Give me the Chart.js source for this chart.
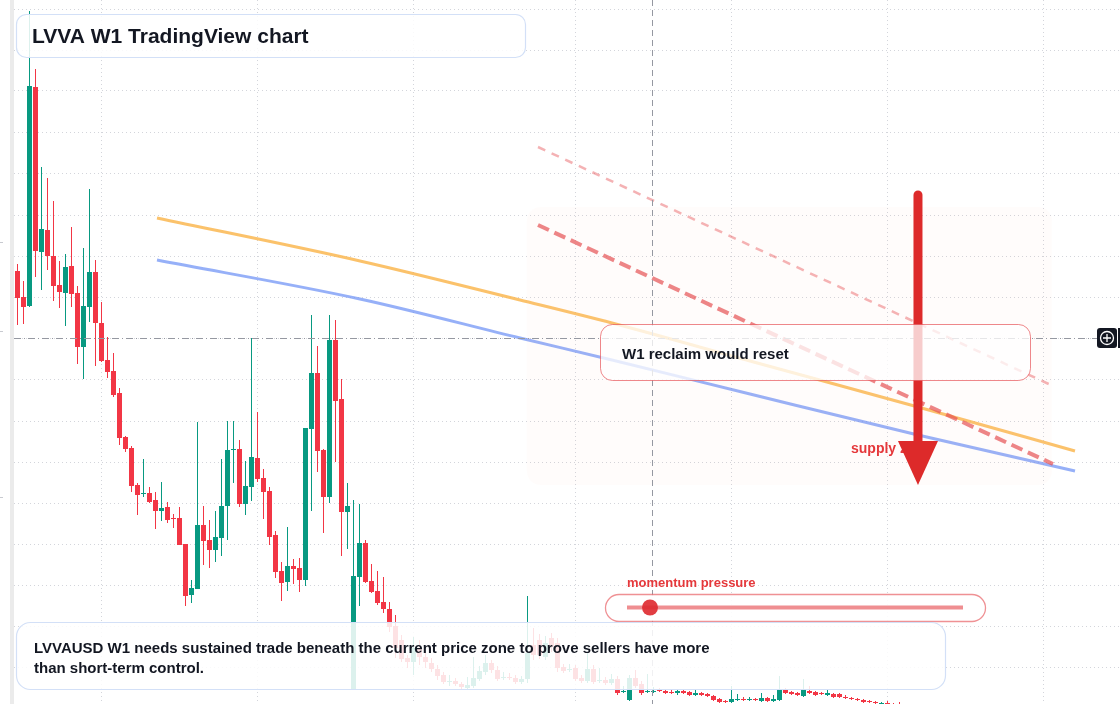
<!DOCTYPE html>
<html><head><meta charset="utf-8">
<script src="https://cdn.jsdelivr.net/npm/chart.js@4.4.0/dist/chart.umd.min.js"></script>
<style>html,body{margin:0;padding:0;background:#fff;overflow:hidden}canvas{display:block}</style>
</head><body><canvas id="c" width="1120" height="704"></canvas>
<script>
// ---- LVVAUSD weekly candles (price in USD) ----
const opens = [.0729,.0703,.0694,.0913,.0748,.0770,.0744,.0715,.0707,.0734,
.0707,.0653,.0693,.0728,.0677,.0640,.0629,.0607,.0563,.0552,
.0515,.0506,.0507,.0500,.0489,.0493,.0482,.0482,.0456,.0405,
.0411,.0475,.0460,.0450,.0462,.0494,.0550,.0551,.0496,.0513,
.0542,.0522,.0509,.0465,.0429,.0418,.0434,.0432,.0420,.0571,
.0627,.0550,.0503,.0660,.0601,.0488,.0310,.0423,.0457,.0419,
.0409,.0398,.0391,.0374,.0360,.0342,.0338,.0352,.0343,.0337,
.0331,.0325,.0318,.0319,.0316,.0312,.0314,.0321,.0328,.0337,
.0330,.0322,.0323,.0322,.0318,.0321,.0355,.0360,.0343,.0362,
.0357,.0333,.0330,.0332,.0322,.0319,.0331,.0319,.0320,.0317,
.0321,.0308,.0300,.0322,.0316,.0308,.0308,.0310,.0309,.0308,
.0307,.0309,.0308,.0305,.0307,.0306,.0304,.0301,.0299,.0298,
.0300,.0301,.0300,.0301,.0299,.0302,.0299,.0300,.0310,.0308,
.0307,.0304,.0309,.0308,.0307,.0305,.0306,.0306,.0303,.0302,
.0301,.0300,.0299,.0298,.0296,.0297,.0296,.0296];
const highs = [.0736,.0719,.0989,.0931,.0833,.0822,.0799,.0739,.0746,.0773,
.0714,.0752,.0811,.0740,.0698,.0663,.0647,.0612,.0564,.0554,
.0517,.0541,.0513,.0508,.0518,.0498,.0486,.0493,.0456,.0420,
.0578,.0494,.0480,.0489,.0541,.0579,.0579,.0560,.0539,.0662,
.0588,.0531,.0513,.0469,.0438,.0473,.0441,.0442,.0572,.0685,
.0654,.0551,.0685,.0680,.0621,.0517,.0500,.0496,.0460,.0436,
.0429,.0423,.0398,.0385,.0365,.0345,.0363,.0360,.0350,.0342,
.0335,.0328,.0325,.0322,.0318,.0323,.0343,.0334,.0345,.0340,
.0334,.0328,.0327,.0325,.0324,.0404,.0372,.0366,.0364,.0367,
.0362,.0336,.0336,.0335,.0325,.0347,.0335,.0332,.0323,.0326,
.0324,.0314,.0325,.0330,.0319,.0326,.0313,.0312,.0311,.0310,
.0311,.0310,.0309,.0310,.0308,.0307,.0305,.0302,.0300,.0314,
.0306,.0303,.0303,.0302,.0307,.0303,.0305,.0324,.0312,.0309,
.0308,.0321,.0314,.0309,.0308,.0310,.0307,.0307,.0305,.0303,
.0302,.0301,.0300,.0299,.0298,.0299,.0297,.0298];
const lows = [.0675,.0676,.0693,.0723,.0710,.0730,.0699,.0692,.0674,.0693,
.0636,.0621,.0678,.0634,.0638,.0622,.0603,.0555,.0548,.0508,
.0485,.0503,.0497,.0471,.0479,.0477,.0472,.0455,.0394,.0397,
.0411,.0435,.0432,.0438,.0444,.0460,.0517,.0493,.0485,.0499,
.0518,.0481,.0455,.0422,.0399,.0409,.0416,.0408,.0414,.0489,
.0528,.0467,.0497,.0538,.0444,.0451,.0310,.0394,.0417,.0407,
.0395,.0387,.0368,.0342,.0338,.0332,.0325,.0335,.0332,.0328,
.0320,.0316,.0314,.0314,.0311,.0311,.0312,.0319,.0325,.0327,
.0319,.0320,.0320,.0316,.0316,.0317,.0340,.0341,.0340,.0348,
.0328,.0327,.0328,.0319,.0317,.0317,.0316,.0317,.0315,.0315,
.0305,.0307,.0299,.0312,.0305,.0307,.0307,.0308,.0306,.0306,
.0305,.0306,.0304,.0304,.0304,.0303,.0299,.0297,.0297,.0297,
.0299,.0299,.0299,.0299,.0298,.0298,.0298,.0299,.0306,.0305,
.0304,.0303,.0306,.0304,.0305,.0304,.0302,.0302,.0301,.0300,
.0299,.0297,.0297,.0296,.0295,.0295,.0294,.0294];
const closes = [.0702,.0693,.0914,.0749,.0771,.0744,.0714,.0708,.0733,.0706,
.0653,.0694,.0728,.0677,.0639,.0628,.0605,.0562,.0551,.0514,
.0505,.0507,.0498,.0489,.0492,.0480,.0481,.0455,.0404,.0412,
.0475,.0459,.0450,.0463,.0494,.0550,.0551,.0496,.0514,.0543,
.0521,.0508,.0463,.0428,.0417,.0434,.0431,.0420,.0572,.0627,
.0549,.0503,.0660,.0599,.0488,.0494,.0424,.0457,.0418,.0408,
.0397,.0391,.0373,.0352,.0341,.0338,.0352,.0343,.0338,.0331,
.0324,.0318,.0319,.0316,.0313,.0315,.0322,.0329,.0337,.0330,
.0321,.0323,.0322,.0318,.0321,.0347,.0345,.0345,.0357,.0353,
.0332,.0329,.0331,.0321,.0319,.0331,.0318,.0320,.0317,.0321,
.0307,.0309,.0322,.0314,.0307,.0309,.0309,.0309,.0307,.0307,
.0309,.0307,.0305,.0307,.0305,.0304,.0300,.0298,.0298,.0301,
.0301,.0300,.0301,.0300,.0302,.0299,.0301,.0311,.0307,.0306,
.0305,.0310,.0307,.0305,.0306,.0307,.0303,.0303,.0302,.0301,
.0300,.0298,.0298,.0297,.0297,.0296,.0295,.0295];

// ---- overlay curves (x = week index, y = price) ----
const curveX  = [23.25, 57.08, 83.75, 99.08, 122.08, 150.08, 176.25];
const orangeY = [.0782, .0739, .0700, .0677, .0639, .0593, .0549];
const blueY   = [.0740, .0701, .0662, .0640, .0606, .0565, .0529];
const trendX      = [86.75, 172.58];
const trendMainY  = [.0775, .0536];
const trendUpperY = [.0853, .0614];
const zoneX = [84.9, 172.4];
const zoneY = [.0793, .0515];
const arrowX = 150.08;
const arrowY = [.0805, .0559, .0515]; // tail, head base, tip
const crossX = 105.9, crossY = .0662;

// ---- grid positions ----
const gridX = [14, 40, 66, 93, 119, 145, 171];
const gridY = [.0991,.0950,.0910,.0868,.0827,.0785,.0744,.0703,.0662,.0621,.0579,.0538,.0497,.0456,.0415,.0374,.0333];

const titleText = 'LVVA W1 TradingView chart';
const noteLines = ['LVVAUSD W1 needs sustained trade beneath the current price zone to prove sellers have more','than short-term control.'];
const reclaimText = 'W1 reclaim would reset';
const supplyText = 'supply zone';
const momentumText = 'momentum pressure';

const UP = '#089981', DOWN = '#f23645';
const FONT = '"Liberation Sans", Arial, Helvetica, sans-serif';
const idx = opens.map((_, i) => i);
const colors = idx.map(i => closes[i] >= opens[i] ? UP : DOWN);

function rr(ctx, x, y, w, h, r) {
  ctx.beginPath();
  ctx.moveTo(x + r, y);
  ctx.arcTo(x + w, y, x + w, y + h, r);
  ctx.arcTo(x + w, y + h, x, y + h, r);
  ctx.arcTo(x, y + h, x, y, r);
  ctx.arcTo(x, y, x + w, y, r);
  ctx.closePath();
}

const overlay = {
  id: 'overlay',
  beforeDatasetsDraw(chart) {
    const ctx = chart.ctx, xs = chart.scales.x, ys = chart.scales.y;
    ctx.save();
    ctx.strokeStyle = '#d3d5db';
    ctx.lineWidth = 1;
    ctx.setLineDash([1, 3]);
    gridX.forEach(v => {
      const px = Math.floor(xs.getPixelForValue(v)) + 0.5;
      ctx.beginPath(); ctx.moveTo(px, 0); ctx.lineTo(px, 704); ctx.stroke();
    });
    gridY.forEach(v => {
      const py = Math.floor(ys.getPixelForValue(v) + 0.01) + 0.5;
      ctx.beginPath(); ctx.moveTo(14, py); ctx.lineTo(1120, py); ctx.stroke();
    });
    ctx.restore();
  },
  afterDatasetsDraw(chart) {
    const ctx = chart.ctx, xs = chart.scales.x, ys = chart.scales.y;
    ctx.save();
    // zone
    const zx0 = xs.getPixelForValue(zoneX[0]), zx1 = xs.getPixelForValue(zoneX[1]);
    const zy0 = ys.getPixelForValue(zoneY[0]), zy1 = ys.getPixelForValue(zoneY[1]);
    rr(ctx, zx0, zy0, zx1 - zx0, zy1 - zy0, 14);
    ctx.fillStyle = 'rgba(255,190,150,0.04)';
    ctx.fill();
    // crosshair
    const cx = Math.floor(xs.getPixelForValue(crossX)) + 0.5;
    const cy = Math.floor(ys.getPixelForValue(crossY)) + 0.5;
    ctx.strokeStyle = '#9598a1';
    ctx.lineWidth = 1;
    ctx.setLineDash([6, 4]);
    ctx.beginPath(); ctx.moveTo(cx, 0); ctx.lineTo(cx, 704); ctx.stroke();
    ctx.setLineDash([7, 3, 1, 3]);
    ctx.beginPath(); ctx.moveTo(14, cy); ctx.lineTo(1097, cy); ctx.stroke();
    ctx.setLineDash([]);
    // supply text
    ctx.font = 'bold 14px ' + FONT;
    ctx.fillStyle = '#e5383b';
    ctx.textBaseline = 'alphabetic';
    ctx.fillText(supplyText, 851, 453);
    // arrow
    const ax = xs.getPixelForValue(arrowX);
    const ay0 = ys.getPixelForValue(arrowY[0]), ayb = ys.getPixelForValue(arrowY[1]), ayt = ys.getPixelForValue(arrowY[2]);
    ctx.strokeStyle = '#dd2a2a';
    ctx.lineWidth = 9;
    ctx.lineCap = 'round';
    ctx.beginPath(); ctx.moveTo(ax, ay0); ctx.lineTo(ax, ayb + 2); ctx.stroke();
    ctx.lineCap = 'butt';
    ctx.fillStyle = '#dd2a2a';
    ctx.beginPath(); ctx.moveTo(ax - 20, ayb); ctx.lineTo(ax + 20, ayb); ctx.lineTo(ax, ayt); ctx.closePath(); ctx.fill();
    // reclaim box
    rr(ctx, 600.5, 324.5, 430, 56, 12);
    ctx.fillStyle = 'rgba(255,255,255,0.76)';
    ctx.fill();
    ctx.strokeStyle = 'rgba(229,72,77,0.65)';
    ctx.lineWidth = 1;
    ctx.stroke();
    ctx.font = 'bold 15px ' + FONT;
    ctx.fillStyle = '#131722';
    ctx.fillText(reclaimText, 622, 359);
    // momentum
    ctx.font = 'bold 13px ' + FONT;
    ctx.fillStyle = '#e5383b';
    ctx.fillText(momentumText, 627, 587);
    rr(ctx, 605.5, 594.5, 380, 27, 13.5);
    ctx.fillStyle = 'rgba(255,255,255,0.9)';
    ctx.fill();
    ctx.strokeStyle = 'rgba(229,72,77,0.6)';
    ctx.lineWidth = 1.3;
    ctx.stroke();
    ctx.strokeStyle = 'rgba(229,72,77,0.62)';
    ctx.lineWidth = 4;
    ctx.beginPath(); ctx.moveTo(627, 607.5); ctx.lineTo(963, 607.5); ctx.stroke();
    ctx.fillStyle = 'rgba(222,45,50,0.92)';
    ctx.beginPath(); ctx.arc(650, 607.5, 8, 0, Math.PI * 2); ctx.fill();
    // title box
    rr(ctx, 16.5, 14.5, 509, 43, 10);
    ctx.fillStyle = 'rgba(255,255,255,0.86)';
    ctx.fill();
    ctx.strokeStyle = '#d3e0f7';
    ctx.lineWidth = 1.2;
    ctx.stroke();
    ctx.font = 'bold 21px ' + FONT;
    ctx.fillStyle = '#131722';
    ctx.fillText(titleText, 32, 43);
    // note box
    rr(ctx, 16.5, 622.5, 929, 67, 14);
    ctx.fillStyle = 'rgba(255,255,255,0.86)';
    ctx.fill();
    ctx.strokeStyle = '#d3e0f7';
    ctx.lineWidth = 1.2;
    ctx.stroke();
    ctx.font = 'bold 15px ' + FONT;
    ctx.fillStyle = '#131722';
    ctx.fillText(noteLines[0], 34, 653);
    ctx.fillText(noteLines[1], 34, 673);
    // left strip
    ctx.fillStyle = '#ebebeb';
    ctx.fillRect(10, 0, 4, 704);
    ctx.fillStyle = '#c8cad0';
    [242, 331, 497].forEach(y => ctx.fillRect(0, y, 3, 1));
    // crosshair icon
    ctx.fillStyle = '#131722';
    rr(ctx, 1097, 328, 20, 20, 3); ctx.fill();
    ctx.fillRect(1118, 328, 2, 20);
    ctx.strokeStyle = '#ffffff';
    ctx.lineWidth = 1.3;
    ctx.beginPath(); ctx.arc(1107, 338, 6.5, 0, Math.PI * 2); ctx.stroke();
    ctx.beginPath(); ctx.moveTo(1103, 338); ctx.lineTo(1111, 338); ctx.moveTo(1107, 334); ctx.lineTo(1107, 342); ctx.stroke();
    ctx.restore();
  }
};

new Chart(document.getElementById('c'), {
  type: 'bar',
  data: {
    datasets: [
      { type: 'line', label: 'upper trend', data: trendX.map((x, i) => ({ x, y: trendUpperY[i] })),
        borderColor: 'rgba(229,72,77,0.42)', borderWidth: 2.5, borderDash: [8, 7], pointRadius: 0, order: 0 },
      { type: 'line', label: 'main trend', data: trendX.map((x, i) => ({ x, y: trendMainY[i] })),
        borderColor: 'rgba(229,72,77,0.68)', borderWidth: 4, borderDash: [12, 6], pointRadius: 0, order: 0 },
      { type: 'line', label: 'orange', data: curveX.map((x, i) => ({ x, y: orangeY[i] })),
        borderColor: 'rgba(250,180,75,0.82)', borderWidth: 3, pointRadius: 0, cubicInterpolationMode: 'monotone', order: 0 },
      { type: 'line', label: 'blue', data: curveX.map((x, i) => ({ x, y: blueY[i] })),
        borderColor: 'rgba(110,146,245,0.72)', borderWidth: 3, pointRadius: 0, cubicInterpolationMode: 'monotone', order: 0 },
      { label: 'bodies', data: idx.map(i => ({ x: i, y: [opens[i], closes[i]] })),
        backgroundColor: colors, borderWidth: 0, barThickness: 5, grouped: false, inflateAmount: 0, order: 1 },
      { label: 'wicks', data: idx.map(i => ({ x: i, y: [lows[i], highs[i]] })),
        backgroundColor: colors, borderWidth: 0, barThickness: 1, grouped: false, inflateAmount: 0, order: 2 }
    ]
  },
  options: {
    responsive: false, animation: false, devicePixelRatio: 1, events: [],
    layout: { padding: 0 },
    plugins: { legend: { display: false }, tooltip: { enabled: false } },
    scales: {
      x: { type: 'linear', offset: false, min: -17.5 / 6, max: (1120 - 17.5) / 6, display: false },
      y: { type: 'linear', min: .0296, max: .1, display: false }
    }
  },
  plugins: [overlay]
});
</script>
</body></html>
